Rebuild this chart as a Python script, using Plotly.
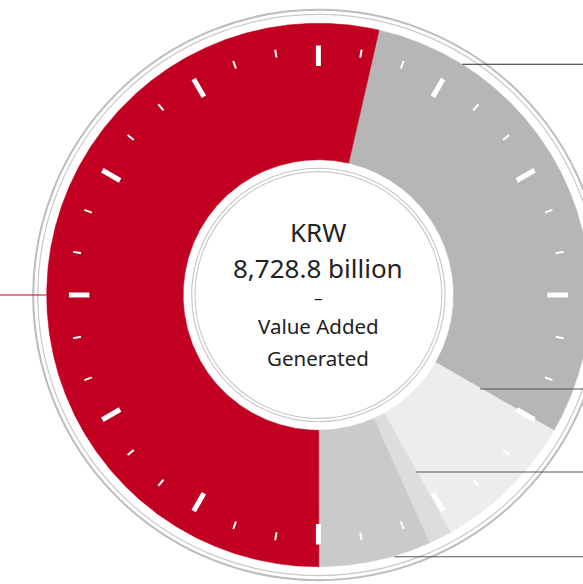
import numpy as np
import plotly.graph_objects as go

# ---------------- data ----------------
categories = ["Segment 1", "Segment 2", "Segment 3", "Segment 4", "Segment 5"]
values = [2594.4, 751.7, 121.2, 581.9, 4679.6]          # KRW billion
total_label = ["KRW", "8,728.8 billion", "–", "Value Added", "Generated"]

# ---------------- style ----------------
colors = ["#b5b6b5", "#ededed", "#dcdddc", "#c9cac9", "#c10022"]
W, H = 583, 584
CX, CY = 318.4, 295.0
R_OUT, R_IN = 271.7, 135.3
ROTATION = 12.9            # degrees clockwise from 12 o'clock
FONT = "Noto Sans"


def pt(r, deg):
    t = np.radians(deg)
    return CX + r * np.sin(t), CY - r * np.cos(t)


fig = go.Figure()

# slices, derived from the values
tot = float(sum(values))
start = ROTATION
for name, v, c in zip(categories, values, colors):
    span = v / tot * 360.0
    a = np.linspace(start, start + span, max(int(span * 4), 2))
    xo, yo = pt(R_OUT, a)
    xi, yi = pt(R_IN, a[::-1])
    fig.add_trace(go.Scatter(
        x=np.concatenate([xo, xi, xo[:1]]), y=np.concatenate([yo, yi, yo[:1]]),
        mode="lines", fill="toself", fillcolor=c, line=dict(width=0.6, color=c),
        name=name, hoverinfo="skip", showlegend=False))
    start += span

# clock-like ticks
for major in (True, False):
    xs, ys = [], []
    for k in range(36):
        deg = k * 10
        if (k % 3 == 0) != major:
            continue
        r1, r2 = (229.0, 249.5) if major else (241.0, 249.0)
        x1, y1 = pt(r1, deg)
        x2, y2 = pt(r2, deg)
        xs += [x1, x2, None]
        ys += [y1, y2, None]
    fig.add_trace(go.Scatter(x=xs, y=ys, mode="lines",
                             line=dict(color="white", width=5 if major else 2),
                             hoverinfo="skip", showlegend=False))

shapes = []
# decorative rings
for r, w, col in [(285.2, 2.0, "#bcbcbc"), (280.6, 1.2, "#c9c9c9"),
                  (126.7, 1.1, "#c4c4c4"), (123.4, 1.1, "#c9c9c9")]:
    shapes.append(dict(type="circle", xref="x", yref="y",
                       x0=CX - r, x1=CX + r, y0=CY - r, y1=CY + r,
                       line=dict(color=col, width=w), layer="above"))

# leader lines
leaders = [(462.3, 64.3, "#2a2a2a"), (480.0, 389.0, "#555555"),
           (416.0, 472.0, "#555555"), (394.3, 556.7, "#555555")]
for x0, y0, col in leaders:
    shapes.append(dict(type="line", xref="x", yref="y", x0=x0, x1=W + 5, y0=y0, y1=y0,
                       line=dict(color=col, width=1.1), layer="above"))
shapes.append(dict(type="line", xref="x", yref="y", x0=-5, x1=CX - R_OUT, y0=CY, y1=CY,
                   line=dict(color="#c10022", width=1.1), layer="above"))

# centre text
text_pos = [231.5, 267.8, 297.8, 326.0, 357.5]
text_size = [26, 26, 17, 20.5, 20.5]
annotations = []
for t, y, s in zip(total_label, text_pos, text_size):
    annotations.append(dict(x=CX, y=y, xref="x", yref="y", text=t, showarrow=False,
                            xanchor="center", yanchor="middle",
                            font=dict(family=FONT, size=s, color="#222222")))

fig.update_layout(
    width=W, height=H, margin=dict(l=0, r=0, t=0, b=0),
    paper_bgcolor="white", plot_bgcolor="white",
    xaxis=dict(range=[0, W], visible=False, fixedrange=True),
    yaxis=dict(range=[H, 0], visible=False, fixedrange=True),
    shapes=shapes, annotations=annotations, showlegend=False,
)

fig.write_html("out.html", config={"displayModeBar": False},
               post_script="document.body.style.margin='0';"
                           "document.body.style.overflow='hidden';")
